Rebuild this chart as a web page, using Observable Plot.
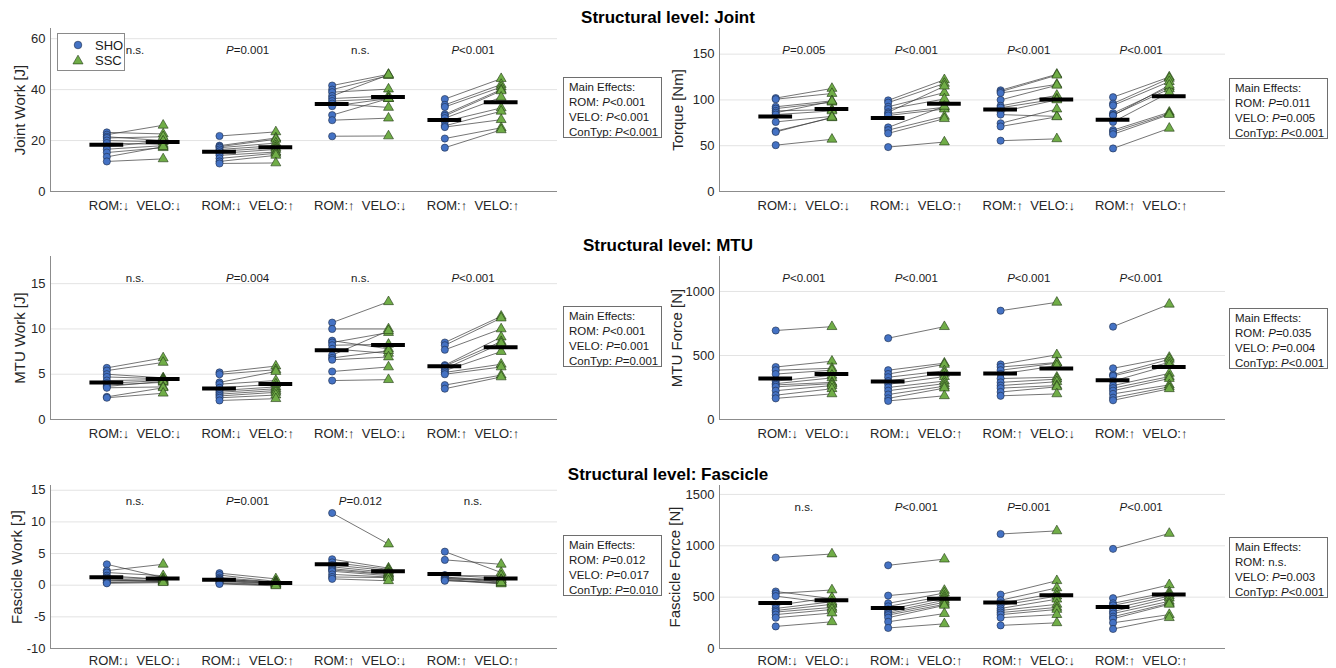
<!DOCTYPE html>
<html><head><meta charset="utf-8">
<script src="https://cdn.jsdelivr.net/npm/d3@7"></script>
<script src="https://cdn.jsdelivr.net/npm/@observablehq/plot@0.6"></script>
<style>
body{margin:0;background:#fff;font-family:"Liberation Sans",Arial,sans-serif;}
#root{position:relative;width:1336px;height:668px;overflow:hidden;background:#fff;}
.panel{position:absolute;}
.title{position:absolute;left:0;width:1336px;text-align:center;font-weight:bold;font-size:17px;color:#000;line-height:20px;z-index:5;}
.fx{position:absolute;border:1px solid #6e6e6e;background:#fff;font-size:11.5px;line-height:15px;padding:2px 0 0 5px;box-sizing:border-box;color:#1a1a1a;width:99px;height:61px;z-index:4;white-space:nowrap;}
.legend{position:absolute;left:57px;top:33px;width:66px;height:36px;border:1px solid #8a8a8a;background:#fff;z-index:4;font-size:13px;color:#1a1a1a;}
</style></head>
<body><div id="root"></div>
<script>
const conditions = ["ROM:\u2193\u00a0 VELO:\u2193", "ROM:\u2193\u00a0 VELO:\u2191", "ROM:\u2191\u00a0 VELO:\u2193", "ROM:\u2191\u00a0 VELO:\u2191"];
const groups = ["SHO", "SSC"];
const levelTitles = ["Structural level: Joint", "Structural level: MTU", "Structural level: Fascicle"];

// Joint work [J]
const jointWorkSHO = [
 [23.2, 22.3, 21.5, 21.0, 20.0, 19.0, 17.6, 16.6, 15.3, 13.6, 11.8],
 [21.8, 18.0, 17.6, 17.2, 16.5, 15.8, 15.0, 14.2, 13.0, 11.8, 11.0],
 [41.6, 40.0, 39.0, 37.5, 36.5, 35.5, 34.5, 33.5, 30.0, 28.0, 21.7],
 [36.3, 34.0, 33.2, 30.3, 29.7, 28.8, 27.5, 25.8, 25.3, 20.8, 17.2]];
const jointWorkSSC = [
 [22.6, 26.0, 20.0, 21.5, 19.5, 18.5, 19.8, 18.0, 17.2, 17.6, 12.8],
 [23.4, 21.0, 20.5, 19.0, 18.0, 17.2, 16.5, 15.5, 15.0, 14.2, 11.2],
 [46.0, 45.5, 40.2, 45.8, 37.5, 36.5, 33.0, 36.5, 36.5, 28.8, 21.8],
 [44.3, 42.0, 41.0, 40.0, 39.5, 37.0, 32.8, 31.5, 28.2, 25.0, 24.2]];
const jointWorkP = ["n.s.", "P=0.001", "n.s.", "P<0.001"];
const jointWorkTicks = [0, 20, 40, 60];

// Torque [Nm]
const torqueSHO = [
 [102, 100.8, 92.5, 90.5, 88, 86, 84, 76, 66, 65, 50.6],
 [99.5, 97, 92.5, 90, 86.5, 85, 83, 70, 67, 63.5, 48.5],
 [110.5, 109, 107.5, 100, 93.5, 91.5, 87, 84, 74.5, 71, 55.5],
 [103, 96, 94, 85.5, 83.5, 83, 76, 67, 65, 62.5, 47]];
const torqueSSC = [
 [112.5, 107, 99, 97.5, 89.5, 98.5, 88, 82, 80.5, 81, 57],
 [122, 118, 108, 101, 115, 92, 90, 93, 82, 79.5, 54],
 [128, 127, 117, 116, 105, 101, 100, 82, 90, 81.5, 57.5],
 [125, 123.5, 120, 114, 112, 116, 108, 86.5, 85, 84, 69]];
const torqueP = ["P=0.005", "P<0.001", "P<0.001", "P<0.001"];
const torqueTicks = [0, 50, 100, 150];

// MTU work [J]
const mtuWorkSHO = [
 [5.7, 5.4, 5.0, 4.7, 4.3, 4.0, 3.8, 3.65, 3.5, 2.5, 2.4],
 [5.2, 5.0, 4.1, 3.9, 3.5, 3.2, 3.0, 2.8, 2.6, 2.4, 2.1],
 [10.7, 10.0, 8.7, 8.5, 8.2, 7.8, 7.1, 6.8, 6.6, 5.3, 4.3],
 [8.5, 8.2, 7.7, 6.0, 5.9, 5.6, 5.4, 5.2, 5.0, 3.8, 3.4]];
const mtuWorkSSC = [
 [6.8, 6.3, 4.6, 4.5, 4.4, 4.3, 4.1, 4.2, 3.6, 3.5, 2.9],
 [5.9, 5.5, 5.3, 4.3, 3.9, 3.6, 3.4, 3.2, 3.0, 2.7, 2.3],
 [13.0, 10.0, 7.8, 9.6, 8.3, 7.3, 9.8, 7.6, 6.9, 5.8, 4.4],
 [11.4, 11.2, 10.0, 9.1, 8.6, 8.4, 7.5, 6.1, 5.8, 4.9, 4.7]];
const mtuWorkP = ["n.s.", "P=0.004", "n.s.", "P<0.001"];
const mtuWorkTicks = [0, 5, 10, 15];

// MTU force [N]
const mtuForceSHO = [
 [695, 410, 385, 355, 300, 280, 270, 255, 225, 190, 165],
 [635, 385, 355, 330, 300, 275, 250, 225, 195, 165, 145],
 [850, 430, 410, 385, 355, 320, 290, 265, 245, 215, 185],
 [725, 400, 350, 340, 300, 265, 245, 225, 200, 170, 150]];
const mtuForceSSC = [
 [725, 455, 400, 385, 345, 325, 290, 280, 265, 240, 200],
 [725, 440, 430, 380, 360, 335, 300, 280, 260, 245, 185],
 [915, 505, 445, 440, 420, 330, 315, 295, 265, 255, 200],
 [900, 485, 470, 445, 425, 360, 335, 320, 270, 255, 240]];
const mtuForceP = ["P<0.001", "P<0.001", "P<0.001", "P<0.001"];
const mtuForceTicks = [0, 500, 1000];

// Fascicle work [J]
const fascWorkSHO = [
 [3.3, 2.3, 2.0, 1.5, 1.2, 1.0, 0.8, 0.7, 0.5, 0.4, 0.3],
 [1.9, 1.6, 1.2, 1.0, 0.9, 0.8, 0.7, 0.6, 0.4, 0.3, 0.2],
 [11.4, 4.1, 3.6, 3.2, 2.9, 2.6, 2.4, 2.2, 1.7, 1.3, 1.0],
 [5.3, 4.0, 1.6, 1.5, 1.3, 1.2, 1.1, 1.0, 0.9, 0.8, 0.7]];
const fascWorkSSC = [
 [1.2, 3.3, 1.5, 0.9, 1.0, 0.7, 0.6, 0.8, 0.5, 0.6, 0.4],
 [1.0, 0.6, 0.5, 0.4, 0.5, 0.3, 0.3, 0.2, 0.1, 0.0, -0.1],
 [6.5, 2.7, 2.5, 2.3, 2.0, 1.8, 1.7, 1.5, 1.3, 1.2, 0.7],
 [2.0, 3.3, 1.1, 1.5, 0.6, 0.9, 0.5, 0.8, 0.3, 0.2, 0.4]];
const fascWorkP = ["n.s.", "P=0.001", "P=0.012", "n.s."];
const fascWorkTicks = [-10, -5, 0, 5, 10, 15];

// Fascicle force [N]
const fascForceSHO = [
 [885, 555, 535, 510, 420, 390, 370, 355, 330, 300, 215],
 [810, 515, 440, 410, 380, 355, 340, 325, 300, 260, 200],
 [1115, 525, 470, 440, 420, 390, 370, 350, 330, 300, 225],
 [970, 490, 440, 420, 390, 360, 340, 310, 290, 250, 190]];
const fascForceSSC = [
 [920, 485, 570, 440, 495, 455, 430, 400, 380, 345, 260],
 [870, 565, 540, 510, 490, 470, 450, 430, 420, 340, 240],
 [1145, 660, 590, 540, 510, 480, 430, 400, 380, 330, 250],
 [1120, 620, 550, 530, 510, 490, 460, 440, 430, 330, 300]];
const fascForceP = ["n.s.", "P<0.001", "P=0.001", "P<0.001"];
const fascForceTicks = [0, 500, 1000, 1500];

// Main effects boxes
const jointWorkEffects = ["Main Effects:", "ROM: P<0.001", "VELO: P<0.001", "ConTyp: P<0.001"];
const torqueEffects = ["Main Effects:", "ROM: P=0.011", "VELO: P=0.005", "ConTyp: P<0.001"];
const mtuWorkEffects = ["Main Effects:", "ROM: P<0.001", "VELO: P=0.001", "ConTyp: P=0.001"];
const mtuForceEffects = ["Main Effects:", "ROM: P=0.035", "VELO: P=0.004", "ConTyp: P<0.001"];
const fascWorkEffects = ["Main Effects:", "ROM: P=0.012", "VELO: P=0.017", "ConTyp: P=0.010"];
const fascForceEffects = ["Main Effects:", "ROM: n.s.", "VELO: P=0.003", "ConTyp: P<0.001"];

const FONT = '"Liberation Sans", Arial, sans-serif';
const BLUE = "#4472c4", GREEN = "#70ad47";
const root = document.getElementById("root");

function italicP(s){ return s.replace(/P([<=])/g, '<tspan font-style="italic">P</tspan>$1'); }

function panel(cfg){
  const rows = [];
  cfg.sho.forEach((g, i) => g.forEach((v, j) => rows.push({x1: 2*i+1, x2: 2*i+2, y1: v, y2: cfg.ssc[i][j]})));
  const means = [];
  for (let i = 0; i < 4; i++) {
    means.push({x: 2*i+1, y: d3.mean(cfg.sho[i])});
    means.push({x: 2*i+2, y: d3.mean(cfg.ssc[i])});
  }
  const chart = Plot.plot({
    width: cfg.width, height: cfg.height,
    marginLeft: cfg.mL, marginRight: 2, marginTop: 18, marginBottom: cfg.mB,
    style: {fontFamily: FONT, fontSize: "13px", color: "#262626", background: "transparent", overflow: "visible"},
    x: {domain: [0, 9]},
    y: {domain: cfg.domain},
    marks: [
      Plot.gridY(cfg.ticks, {stroke: "#e3e3e3", strokeOpacity: 1}),
      Plot.axisX({ticks: [1.5, 3.5, 5.5, 7.5], tickFormat: d => conditions[Math.round((d - 1.5) / 2)], tickSize: 0, tickPadding: cfg.xPad, label: null, fontSize: 13}),
      Plot.axisY({ticks: cfg.ticks, tickFormat: d => String(d), tickSize: 0, tickPadding: 5, label: null, fontSize: 13}),
      Plot.text([cfg.label], {frameAnchor: "left", textAnchor: "middle", lineAnchor: "middle", rotate: -90, dx: cfg.labelDx, fontSize: 15, fill: "#262626"}),
      Plot.ruleX([0], {stroke: "#8c8c8c"}),
      Plot.ruleY([cfg.domain[0]], {stroke: "#8c8c8c"}),
      Plot.link(rows, {x1: "x1", y1: "y1", x2: "x2", y2: "y2", stroke: "#3a3a3a", strokeWidth: 0.7}),
      Plot.dot(rows, {x: "x1", y: "y1", r: 3.6, fill: BLUE, stroke: "#1c2c48", strokeWidth: 0.6, symbol: "circle"}),
      Plot.dot(rows, {x: "x2", y: "y2", r: 3.7, fill: GREEN, stroke: "#1f3512", strokeWidth: 0.6, symbol: "triangle"}),
      Plot.ruleY(means, {x1: d => d.x - 0.3, x2: d => d.x + 0.3, y: "y", stroke: "#000", strokeWidth: 4}),
      Plot.text(cfg.p, {x: (d, i) => 2*i + 1.5, frameAnchor: "top", dy: cfg.pDy, text: d => d, fontSize: 11.5, fill: "#1a1a1a", className: "plabel"})
    ]
  });
  chart.querySelectorAll("g.plabel text").forEach(t => { t.innerHTML = italicP(t.textContent); });
  const wrap = document.createElement("div");
  wrap.className = "panel";
  wrap.style.left = cfg.left + "px";
  wrap.style.top = cfg.top + "px";
  wrap.appendChild(chart);
  root.appendChild(wrap);

  const box = document.createElement("div");
  box.className = "fx";
  box.style.left = cfg.fxLeft + "px";
  box.style.top = cfg.fxTop + "px";
  box.innerHTML = cfg.effects.map(s => s.replace(/P([<=])/g, "<i>P</i>$1")).join("<br>");
  root.appendChild(box);
}

const rowTops = [10, 238, 467];
const rowB = [28, 28, 20];
const rowH = [209, 209, 201];
const rowPad = [9, 9, 7];

panel({sho: jointWorkSHO, ssc: jointWorkSSC, p: jointWorkP, ticks: jointWorkTicks, domain: [0, 64], label: "Joint Work [J]",
  left: 0, top: rowTops[0], width: 559, height: rowH[0], mL: 50, mB: rowB[0], xPad: rowPad[0], labelDx: -30, pDy: 17, effects: jointWorkEffects, fxLeft: 563, fxTop: 77});
panel({sho: torqueSHO, ssc: torqueSSC, p: torqueP, ticks: torqueTicks, domain: [0, 178], label: "Torque [Nm]",
  left: 660, top: rowTops[0], width: 567, height: rowH[0], mL: 59, mB: rowB[0], xPad: rowPad[0], labelDx: -41, pDy: 17, effects: torqueEffects, fxLeft: 1229, fxTop: 78});
panel({sho: mtuWorkSHO, ssc: mtuWorkSSC, p: mtuWorkP, ticks: mtuWorkTicks, domain: [0, 18], label: "MTU Work [J]",
  left: 0, top: rowTops[1], width: 559, height: rowH[1], mL: 50, mB: rowB[1], xPad: rowPad[1], labelDx: -30, pDy: 17, effects: mtuWorkEffects, fxLeft: 563, fxTop: 306});
panel({sho: mtuForceSHO, ssc: mtuForceSSC, p: mtuForceP, ticks: mtuForceTicks, domain: [0, 1273], label: "MTU Force [N]",
  left: 660, top: rowTops[1], width: 567, height: rowH[1], mL: 59, mB: rowB[1], xPad: rowPad[1], labelDx: -42, pDy: 17, effects: mtuForceEffects, fxLeft: 1229, fxTop: 308});
panel({sho: fascWorkSHO, ssc: fascWorkSSC, p: fascWorkP, ticks: fascWorkTicks, domain: [-10, 15.75], label: "Fascicle Work [J]",
  left: 0, top: rowTops[2], width: 559, height: rowH[2], mL: 50, mB: rowB[2], xPad: rowPad[2], labelDx: -33, pDy: 11, effects: fascWorkEffects, fxLeft: 563, fxTop: 535});
panel({sho: fascForceSHO, ssc: fascForceSSC, p: fascForceP, ticks: fascForceTicks, domain: [0, 1587], label: "Fascicle Force [N]",
  left: 660, top: rowTops[2], width: 567, height: rowH[2], mL: 59, mB: rowB[2], xPad: rowPad[2], labelDx: -44, pDy: 17, effects: fascForceEffects, fxLeft: 1229, fxTop: 537});

// titles
[8, 236, 465].forEach((y, k) => {
  const t = document.createElement("div");
  t.className = "title";
  t.style.top = y + "px";
  t.textContent = levelTitles[k];
  root.appendChild(t);
});

// legend
const lg = document.createElement("div");
lg.className = "legend";
lg.innerHTML = `<svg width="66" height="36" style="position:absolute;left:0;top:0;overflow:visible">
  <circle cx="20" cy="11" r="3.8" fill="${BLUE}" stroke="#1c2c48" stroke-width="0.6"></circle>
  <path d="${d3.symbol(d3.symbolTriangle, 44)()}" transform="translate(20,27)" fill="${GREEN}" stroke="#1f3512" stroke-width="0.6"></path>
  <text x="37" y="15.5" font-size="13" fill="#1a1a1a" font-family='${FONT}'>${groups[0]}</text>
  <text x="37" y="31" font-size="13" fill="#1a1a1a" font-family='${FONT}'>${groups[1]}</text>
</svg>`;
root.appendChild(lg);
</script>
</body></html>
